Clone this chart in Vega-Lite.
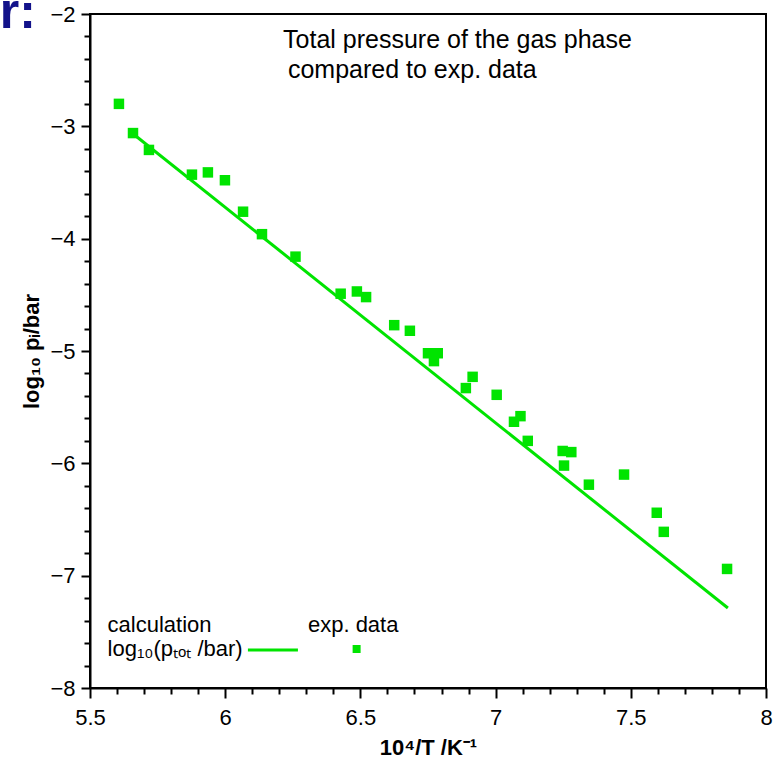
{
  "$schema": "https://vega.github.io/schema/vega-lite/v6.json",
  "width": 676,
  "height": 674,
  "autosize": {"type": "none"},
  "padding": {"left": 90, "top": 14, "right": 9, "bottom": 75},
  "background": "white",
  "config": {
    "view": {"stroke": "black", "strokeWidth": 2},
    "axis": {
      "grid": false,
      "domainColor": "black",
      "domainWidth": 2,
      "tickColor": "black",
      "tickWidth": 2,
      "labelColor": "black",
      "labelFont": "Liberation Sans",
      "labelFontSize": 22,
      "titleFont": "Liberation Sans",
      "titleFontSize": 22,
      "titleFontWeight": "bold",
      "titleColor": "black",
      "labelOverlap": false,
      "labelFlush": false
    }
  },
  "datasets": {
    "exp": [
      {"x": 5.607, "y": -2.80},
      {"x": 5.659, "y": -3.06},
      {"x": 5.718, "y": -3.21},
      {"x": 5.877, "y": -3.43},
      {"x": 5.936, "y": -3.41},
      {"x": 5.999, "y": -3.48},
      {"x": 6.066, "y": -3.76},
      {"x": 6.136, "y": -3.96},
      {"x": 6.260, "y": -4.16},
      {"x": 6.427, "y": -4.49},
      {"x": 6.487, "y": -4.47},
      {"x": 6.521, "y": -4.52},
      {"x": 6.625, "y": -4.77},
      {"x": 6.683, "y": -4.82},
      {"x": 6.750, "y": -5.02},
      {"x": 6.786, "y": -5.02},
      {"x": 6.772, "y": -5.09},
      {"x": 6.890, "y": -5.33},
      {"x": 6.915, "y": -5.23},
      {"x": 7.004, "y": -5.39},
      {"x": 7.068, "y": -5.63},
      {"x": 7.092, "y": -5.58},
      {"x": 7.119, "y": -5.80},
      {"x": 7.248, "y": -5.89},
      {"x": 7.280, "y": -5.90},
      {"x": 7.253, "y": -6.02},
      {"x": 7.345, "y": -6.19},
      {"x": 7.475, "y": -6.10},
      {"x": 7.596, "y": -6.44},
      {"x": 7.622, "y": -6.61},
      {"x": 7.856, "y": -6.94}
    ],
    "calc": [
      {"x": 5.645, "y": -3.039},
      {"x": 7.859, "y": -7.288}
    ],
    "title": [
      {"x": 6.214, "y": -2.231, "label": "Total pressure of the gas phase"},
      {"x": 6.232, "y": -2.499, "label": "compared to exp. data"}
    ],
    "notes": [
      {"x": 5.565, "y": -7.439, "label": "calculation"},
      {"x": 5.565, "y": -7.653, "label": "log₁₀(pₜₒₜ /bar)"},
      {"x": 6.306, "y": -7.439, "label": "exp. data"}
    ],
    "legline": [
      {"x": 6.084, "y": -7.662},
      {"x": 6.269, "y": -7.662}
    ],
    "legpt": [
      {"x": 6.486, "y": -7.653}
    ],
    "corner": [
      {"x": 5.30, "y": -2.125, "label": "r:"}
    ]
  },
  "layer": [
    {
      "data": {"name": "calc"},
      "mark": {"type": "line", "color": "#00e400", "strokeWidth": 3},
      "encoding": {
        "x": {
          "field": "x",
          "type": "quantitative",
          "scale": {"domain": [5.5, 8], "nice": false, "zero": false},
          "axis": {
            "title": "10⁴/T /K⁻¹",
            "values": [5.5, 5.6, 5.7, 5.8, 5.9, 6, 6.1, 6.2, 6.3, 6.4, 6.5, 6.6, 6.7, 6.8, 6.9, 7, 7.1, 7.2, 7.3, 7.4, 7.5, 7.6, 7.7, 7.8, 7.9, 8],
            "tickCount": 200,
            "labelExpr": "abs(datum.value*2 - round(datum.value*2)) < 0.01 ? format(datum.value, '~g') : ''",
            "tickSize": {"condition": {"test": "abs(datum.value*2 - round(datum.value*2)) < 0.01", "value": 10}, "value": 6},
            "labelOverlap": false,
            "labelPadding": 9,
            "titlePadding": 9
          }
        },
        "y": {
          "field": "y",
          "type": "quantitative",
          "scale": {"domain": [-8, -2], "nice": false, "zero": false},
          "axis": {
            "title": "log₁₀ pᵢ/bar",
            "values": [-8, -7.8, -7.6, -7.4, -7.2, -7, -6.8, -6.6, -6.4, -6.2, -6, -5.8, -5.6, -5.4, -5.2, -5, -4.8, -4.6, -4.4, -4.2, -4, -3.8, -3.6, -3.4, -3.2, -3, -2.8, -2.6, -2.4, -2.2, -2],
            "tickCount": 200,
            "labelExpr": "abs(datum.value - round(datum.value)) < 0.01 ? format(datum.value, 'd') : ''",
            "tickSize": {"condition": {"test": "abs(datum.value - round(datum.value)) < 0.01", "value": 9}, "value": 6},
            "labelOverlap": false,
            "labelPadding": 6,
            "titlePadding": 6
          }
        }
      }
    },
    {
      "data": {"name": "exp"},
      "mark": {"type": "point", "shape": "square", "filled": true, "color": "#00e400", "size": 110, "opacity": 1},
      "encoding": {
        "x": {"field": "x", "type": "quantitative"},
        "y": {"field": "y", "type": "quantitative"}
      }
    },
    {
      "data": {"name": "title"},
      "mark": {"type": "text", "align": "left", "baseline": "middle", "font": "Liberation Sans", "fontSize": 25, "color": "black"},
      "encoding": {
        "x": {"field": "x", "type": "quantitative"},
        "y": {"field": "y", "type": "quantitative"},
        "text": {"field": "label"}
      }
    },
    {
      "data": {"name": "notes"},
      "mark": {"type": "text", "align": "left", "baseline": "middle", "font": "Liberation Sans", "fontSize": 22, "color": "black"},
      "encoding": {
        "x": {"field": "x", "type": "quantitative"},
        "y": {"field": "y", "type": "quantitative"},
        "text": {"field": "label"}
      }
    },
    {
      "data": {"name": "legline"},
      "mark": {"type": "line", "color": "#00e400", "strokeWidth": 3},
      "encoding": {
        "x": {"field": "x", "type": "quantitative"},
        "y": {"field": "y", "type": "quantitative"}
      }
    },
    {
      "data": {"name": "legpt"},
      "mark": {"type": "point", "shape": "square", "filled": true, "color": "#00e400", "size": 64, "opacity": 1},
      "encoding": {
        "x": {"field": "x", "type": "quantitative"},
        "y": {"field": "y", "type": "quantitative"}
      }
    },
    {
      "data": {"name": "corner"},
      "mark": {"type": "text", "align": "right", "baseline": "alphabetic", "font": "Liberation Sans", "fontSize": 50, "fontWeight": "bold", "color": "#12128a"},
      "encoding": {
        "x": {"field": "x", "type": "quantitative"},
        "y": {"field": "y", "type": "quantitative"},
        "text": {"field": "label"}
      }
    }
  ]
}
